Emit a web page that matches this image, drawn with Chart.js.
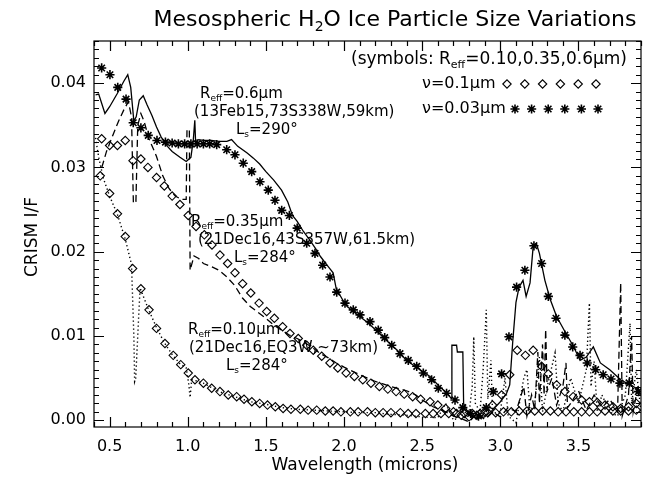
<!DOCTYPE html>
<html><head><meta charset="utf-8">
<script src="https://cdn.jsdelivr.net/npm/chart.js@4/dist/chart.umd.min.js"></script>
<style>html,body{margin:0;padding:0;background:#fff}canvas{display:block}</style>
</head><body>
<canvas id="c" width="651" height="483"></canvas>
<script>
// ---- tick labels ----
const xTickLabels = [0.5, 1.0, 1.5, 2.0, 2.5, 3.0, 3.5];
const yTickLabels = [0.00, 0.01, 0.02, 0.03, 0.04];

// ---- observed spectra (CRISM I/F) ----
// Reff = 0.6 um, 13Feb15 (solid)
const obs06X = [0.41,0.43,0.47,0.50,0.55,0.59,0.616,0.635,0.655,0.67,0.69,0.715,0.74,0.77,0.80,0.83,0.87,0.90,0.95,0.99,1.02,1.035,1.045,1.05,1.07,1.10,1.15,1.20,1.25,1.28,1.32,1.38,1.42,1.46,1.50,1.55,1.60,1.64,1.67,1.70,1.74,1.78,1.82,1.85,1.90,1.93,1.95,2.00,2.02,2.08,2.15,2.21,2.27,2.34,2.40,2.47,2.55,2.61,2.66,2.685,2.69,2.72,2.725,2.76,2.765,2.80,2.85,2.90,2.95,3.00,3.04,3.06,3.08,3.10,3.12,3.145,3.165,3.19,3.21,3.23,3.25,3.285,3.32,3.36,3.42,3.47,3.51,3.55,3.595,3.64,3.70,3.77,3.85,3.89];
const obs06Y = [0.0386,0.0387,0.0364,0.0372,0.0388,0.0402,0.0410,0.0395,0.0355,0.0360,0.0380,0.0385,0.0374,0.0362,0.0348,0.0336,0.0325,0.0319,0.0312,0.0307,0.0312,0.0332,0.0356,0.0330,0.0333,0.0332,0.0332,0.0331,0.0331,0.0333,0.0325,0.0317,0.0311,0.0304,0.0295,0.0285,0.0273,0.0259,0.0243,0.0236,0.0224,0.0214,0.0203,0.0194,0.0182,0.0175,0.0156,0.0140,0.0135,0.0126,0.0116,0.0106,0.0095,0.0083,0.0071,0.0062,0.0052,0.0040,0.0032,0.0026,0.0089,0.0089,0.0081,0.0081,0.0020,0.0006,0.0002,0.0004,0.0012,0.0022,0.0032,0.0042,0.0095,0.0140,0.0158,0.0166,0.0147,0.0163,0.0206,0.0210,0.0198,0.0166,0.0143,0.0123,0.0103,0.0087,0.0071,0.0075,0.0087,0.0068,0.0060,0.0048,0.0040,0.0036];
// Reff = 0.35 um, 21Dec16 43S (dashed)
const obs035X = [0.45,0.48,0.52,0.555,0.59,0.62,0.64,0.652,0.668,0.68,0.70,0.72,0.75,0.80,0.84,0.88,0.92,0.96,0.99,0.995,1.01,1.015,1.04,1.07,1.10,1.155,1.20,1.25,1.30,1.35,1.40,1.45,1.50,1.55,1.60,1.65,1.70,1.75,1.80,1.85,1.90,1.95,2.00,2.10,2.20,2.30,2.40,2.46,2.50,2.57,2.65,2.70,2.75,2.80,2.85,2.90,2.95,3.00,3.05,3.10,3.15,3.17,3.20,3.22,3.24,3.25,3.27,3.28,3.29,3.30,3.33,3.36,3.40,3.42,3.43,3.45,3.50,3.55,3.60,3.65,3.70,3.75,3.77,3.78,3.82,3.84,3.85,3.88];
const obs035Y = [0.0300,0.0319,0.0338,0.0354,0.0368,0.0378,0.0360,0.0258,0.0258,0.0350,0.0364,0.0355,0.0335,0.0313,0.0290,0.0275,0.0266,0.0262,0.0262,0.0345,0.0345,0.0178,0.0195,0.0192,0.0186,0.0182,0.0178,0.0170,0.0160,0.0145,0.0135,0.0128,0.0121,0.0113,0.0107,0.0101,0.0097,0.0092,0.0086,0.0079,0.0074,0.0068,0.0063,0.0054,0.0046,0.0040,0.0035,0.0030,0.0024,0.0016,0.0010,0.0005,0.0002,-0.0002,0.0008,0.0001,0.0010,0.0004,0.0015,0.0010,0.0040,0.0005,0.0030,0.0012,0.0081,0.0020,0.0090,0.0030,0.0108,0.0035,0.0050,0.0018,0.0040,0.0068,0.0015,0.0020,0.0035,0.0012,0.0030,0.0015,0.0025,0.0010,0.0163,0.0005,0.0030,0.0100,0.0010,0.0040];
// Reff = 0.10 um, 21Dec16 EQ (dotted)
const obs010X = [0.41,0.43,0.46,0.50,0.55,0.60,0.64,0.655,0.66,0.667,0.685,0.695,0.72,0.75,0.80,0.85,0.90,0.95,0.99,1.005,1.015,1.025,1.05,1.10,1.15,1.20,1.30,1.40,1.50,1.60,1.70,1.80,1.90,2.00,2.10,2.20,2.30,2.40,2.50,2.60,2.65,2.70,2.75,2.78,2.80,2.82,2.83,2.84,2.87,2.89,2.91,2.92,2.94,2.95,3.00,3.03,3.05,3.10,3.15,3.17,3.19,3.22,3.25,3.27,3.30,3.35,3.37,3.40,3.45,3.50,3.55,3.57,3.58,3.60,3.62,3.65,3.70,3.75,3.80,3.83,3.84,3.87,3.90];
const obs010Y = [0.0335,0.0312,0.0287,0.0266,0.0244,0.0215,0.0185,0.0100,0.0046,0.0050,0.0120,0.0157,0.0145,0.0131,0.0110,0.0092,0.0078,0.0067,0.0062,0.0045,0.0027,0.0048,0.0047,0.0044,0.0039,0.0034,0.0028,0.0022,0.0019,0.0015,0.0013,0.0012,0.0011,0.0010,0.0009,0.0009,0.0007,0.0006,0.0004,0.0003,0.0020,0.0000,0.0005,0.0010,0.0008,0.0040,0.0099,0.0020,0.0010,0.0060,0.0131,0.0025,0.0071,0.0008,0.0010,0.0050,0.0005,-0.0003,0.0050,0.0060,0.0010,0.0020,0.0075,0.0010,0.0040,0.0080,0.0020,0.0010,0.0050,0.0020,0.0060,0.0139,0.0040,0.0070,0.0010,0.0030,0.0010,0.0005,0.0030,0.0115,0.0020,0.0060,0.0010];

// ---- model spectra (symbols) ----
// Reff = 0.6 um, nu = 0.03 um (asterisks)
const mod06X = [0.449,0.502,0.552,0.605,0.651,0.700,0.747,0.803,0.857,0.90,0.94,0.98,1.02,1.06,1.10,1.14,1.185,1.249,1.302,1.355,1.409,1.462,1.515,1.558,1.601,1.65,1.70,1.761,1.814,1.863,1.91,1.953,2.006,2.059,2.102,2.166,2.219,2.26,2.305,2.358,2.411,2.465,2.507,2.56,2.603,2.656,2.71,2.76,2.81,2.86,2.91,2.955,3.008,3.055,3.104,3.157,3.215,3.264,3.307,3.356,3.413,3.463,3.51,3.556,3.61,3.658,3.708,3.765,3.825,3.883];
const mod06Y = [0.0418,0.0410,0.0395,0.0381,0.0353,0.0347,0.0338,0.0332,0.0330,0.0329,0.0328,0.0328,0.0328,0.0328,0.0328,0.0328,0.0327,0.0321,0.0315,0.0305,0.0295,0.0283,0.0273,0.0261,0.0249,0.0243,0.0228,0.0210,0.0198,0.0184,0.0170,0.0152,0.0139,0.0131,0.0125,0.0117,0.0107,0.0098,0.0089,0.0079,0.0071,0.0064,0.0056,0.0048,0.0038,0.0032,0.0024,0.0015,0.0008,0.0005,0.0015,0.0034,0.0055,0.0099,0.0158,0.0178,0.0207,0.0186,0.0147,0.0121,0.0101,0.0087,0.0077,0.0068,0.0060,0.0054,0.0049,0.0044,0.0044,0.0034];
// Reff = 0.35 um, nu = 0.1 um (diamonds)
const mod035X = [0.449,0.50,0.55,0.60,0.65,0.70,0.745,0.80,0.85,0.90,0.95,1.003,1.053,1.106,1.155,1.206,1.255,1.302,1.351,1.403,1.456,1.505,1.554,1.607,1.654,1.707,1.761,1.803,1.857,1.91,1.96,2.013,2.066,2.12,2.172,2.226,2.28,2.333,2.385,2.439,2.49,2.55,2.60,2.65,2.70,2.75,2.80,2.85,2.90,2.95,3.008,3.06,3.108,3.16,3.21,3.264,3.307,3.36,3.413,3.466,3.52,3.57,3.62,3.67,3.72,3.77,3.82,3.87];
const mod035Y = [0.0334,0.0326,0.0326,0.0332,0.0308,0.0310,0.0300,0.0288,0.0278,0.0266,0.0256,0.0243,0.0230,0.0220,0.0208,0.0196,0.0186,0.0175,0.0162,0.0151,0.0139,0.0129,0.0121,0.0111,0.0103,0.0097,0.0089,0.0083,0.0076,0.0068,0.0062,0.0056,0.0052,0.0048,0.0044,0.0040,0.0037,0.0034,0.0031,0.0028,0.0025,0.0022,0.0018,0.0014,0.0010,0.0006,0.0004,0.0006,0.0010,0.0018,0.0030,0.0054,0.0083,0.0077,0.0083,0.0064,0.0055,0.0042,0.0034,0.0028,0.0024,0.0022,0.0021,0.0018,0.0016,0.0014,0.0016,0.0020];
// Reff = 0.10 um, nu = 0.1 um (diamonds)
const mod010X = [0.44,0.50,0.55,0.60,0.647,0.70,0.752,0.80,0.854,0.907,0.955,1.003,1.046,1.10,1.153,1.206,1.259,1.313,1.36,1.41,1.46,1.51,1.56,1.61,1.66,1.72,1.77,1.825,1.88,1.93,1.98,2.04,2.09,2.15,2.20,2.25,2.30,2.36,2.41,2.46,2.52,2.57,2.62,2.67,2.72,2.77,2.82,2.87,2.92,2.97,3.02,3.07,3.12,3.17,3.22,3.27,3.32,3.37,3.42,3.47,3.52,3.57,3.62,3.67,3.72,3.77,3.82,3.87];
const mod010Y = [0.0290,0.0269,0.0245,0.0218,0.0180,0.0156,0.0131,0.0109,0.0091,0.0077,0.0066,0.0056,0.0048,0.0044,0.0038,0.0034,0.0030,0.0028,0.0025,0.0022,0.0020,0.0018,0.0016,0.0014,0.0013,0.0013,0.0012,0.0012,0.0011,0.0011,0.0010,0.0010,0.0010,0.0010,0.0009,0.0009,0.0009,0.0009,0.0008,0.0008,0.0008,0.0008,0.0008,0.0008,0.0008,0.0008,0.0008,0.0008,0.0009,0.0009,0.0010,0.0010,0.0011,0.0011,0.0011,0.0011,0.0011,0.0010,0.0010,0.0010,0.0010,0.0010,0.0010,0.0011,0.0011,0.0011,0.0011,0.0012];

const FAM = "'DejaVu Sans', sans-serif";
const pts = (xs, ys) => xs.map((x, i) => ({x: x, y: ys[i]}));

function drawRich(ctx, segs, x, y, size, align) {
  const mainF = size + 'px ' + FAM, subF = Math.round(size * 0.62) + 'px ' + FAM;
  let w = 0;
  segs.forEach(s => { ctx.font = s[1] ? subF : mainF; w += ctx.measureText(s[0]).width; });
  let cx = align === 'center' ? x - w / 2 : x;
  ctx.textAlign = 'left'; ctx.textBaseline = 'middle';
  segs.forEach(s => {
    ctx.font = s[1] ? subF : mainF;
    ctx.fillText(s[0], cx, s[1] ? y + size * 0.32 : y);
    cx += ctx.measureText(s[0]).width;
  });
}

function marker(ctx, style, x, y, r, bw) {
  if (Chart.helpers && Chart.helpers.drawPoint) {
    ctx.save(); ctx.strokeStyle = '#000'; ctx.fillStyle = 'rgba(0,0,0,0)'; ctx.lineWidth = bw;
    Chart.helpers.drawPoint(ctx, {pointStyle: style, radius: r, borderWidth: bw, rotation: 0}, x, y);
    ctx.restore();
  }
}

const decor = {
  id: 'decor',
  afterDraw(chart) {
    const ctx = chart.ctx, ca = chart.chartArea, xs = chart.scales.x, ys = chart.scales.y;
    ctx.save();
    ctx.strokeStyle = '#000'; ctx.fillStyle = '#000'; ctx.lineWidth = 1.2;
    ctx.strokeRect(ca.left, ca.top, ca.right - ca.left, ca.bottom - ca.top);
    ctx.beginPath();
    for (let i = 4; i <= 39; i++) {
      const px = Math.round(xs.getPixelForValue(i / 10)) + 0.5;
      const L = (i % 5 === 0) ? 10 : 5;
      ctx.moveTo(px, ca.bottom); ctx.lineTo(px, ca.bottom - L);
      ctx.moveTo(px, ca.top); ctx.lineTo(px, ca.top + L);
    }
    for (let i = 0; i <= 45; i++) {
      const py = Math.round(ys.getPixelForValue(i / 1000)) + 0.5;
      const L = (i % 10 === 0) ? 10 : 5;
      ctx.moveTo(ca.left, py); ctx.lineTo(ca.left + L, py);
      ctx.moveTo(ca.right, py); ctx.lineTo(ca.right - L, py);
    }
    ctx.stroke();

    // title
    drawRich(ctx, [['Mesospheric H', 0], ['2', 1], ['O Ice Particle Size Variations', 0]], 395, 20, 22, 'center');
    // axis titles
    ctx.font = '17px ' + FAM; ctx.textAlign = 'center'; ctx.textBaseline = 'middle';
    ctx.fillText('Wavelength (microns)', 365, 466);
    ctx.save(); ctx.translate(33, 237); ctx.rotate(-Math.PI / 2);
    ctx.fillText('CRISM I/F', 0, 0); ctx.restore();

    // annotations
    const S = 15;
    drawRich(ctx, [['R', 0], ['eff', 1], ['=0.6\u03bcm', 0]], 200, 94, S, 'left');
    drawRich(ctx, [['(13Feb15,73S338W,59km)', 0]], 194, 112, S, 'left');
    drawRich(ctx, [['L', 0], ['s', 1], ['=290\u00b0', 0]], 236, 130, S, 'left');

    drawRich(ctx, [['R', 0], ['eff', 1], ['=0.35\u03bcm', 0]], 191, 222, S, 'left');
    drawRich(ctx, [['(21Dec16,43S357W,61.5km)', 0]], 198, 240, S, 'left');
    drawRich(ctx, [['L', 0], ['s', 1], ['=284\u00b0', 0]], 234, 258, S, 'left');

    drawRich(ctx, [['R', 0], ['eff', 1], ['=0.10\u03bcm', 0]], 188, 330, S, 'left');
    drawRich(ctx, [['(21Dec16,EQ3W,~73km)', 0]], 189, 348, S, 'left');
    drawRich(ctx, [['L', 0], ['s', 1], ['=284\u00b0', 0]], 226, 366, S, 'left');

    // legend
    drawRich(ctx, [['(symbols: R', 0], ['eff', 1], ['=0.10,0.35,0.6\u03bcm)', 0]], 351, 60, 17, 'left');
    drawRich(ctx, [['\u03bd=0.1\u03bcm', 0]], 422, 84, 16, 'left');
    drawRich(ctx, [['\u03bd=0.03\u03bcm', 0]], 422, 109, 16, 'left');
    for (let k = 0; k < 6; k++) {
      marker(ctx, 'rectRot', 507 + k * 17.8, 84, 4.2, 1.1);
      marker(ctx, 'star', 515 + k * 16.6, 109, 4.6, 1.6);
    }
    ctx.restore();
  }
};

new Chart(document.getElementById('c'), {
  type: 'scatter',
  data: {
    datasets: [
      {label: 'Reff 0.6 obs', data: pts(obs06X, obs06Y), showLine: true, borderColor: '#000', borderWidth: 1.3, pointRadius: 0, tension: 0},
      {label: 'Reff 0.35 obs', data: pts(obs035X, obs035Y), showLine: true, borderColor: '#000', borderWidth: 1.3, borderDash: [7, 4], pointRadius: 0, tension: 0},
      {label: 'Reff 0.10 obs', data: pts(obs010X, obs010Y), showLine: true, borderColor: '#000', borderWidth: 1.4, borderDash: [1.3, 2.7], pointRadius: 0, tension: 0},
      {label: 'Reff 0.6 model', data: pts(mod06X, mod06Y), showLine: false, pointStyle: 'star', pointRadius: 4.6, borderColor: '#000', backgroundColor: '#000', borderWidth: 1.6},
      {label: 'Reff 0.35 model', data: pts(mod035X, mod035Y), showLine: false, pointStyle: 'rectRot', pointRadius: 4.2, borderColor: '#000', backgroundColor: 'rgba(0,0,0,0)', borderWidth: 1.1},
      {label: 'Reff 0.10 model', data: pts(mod010X, mod010Y), showLine: false, pointStyle: 'rectRot', pointRadius: 4.2, borderColor: '#000', backgroundColor: 'rgba(0,0,0,0)', borderWidth: 1.1}
    ]
  },
  options: {
    responsive: false, animation: false, devicePixelRatio: 1,
    layout: {padding: {top: 41, right: 10, left: 0, bottom: 0}},
    plugins: {legend: {display: false}, tooltip: {enabled: false}, title: {display: false}},
    scales: {
      x: {
        type: 'linear', min: 0.4, max: 3.9,
        afterBuildTicks: s => { s.ticks = xTickLabels.map(v => ({value: v})); },
        afterFit: s => { s.height = 56; },
        grid: {display: false, drawTicks: false}, border: {display: false},
        ticks: {padding: 10, color: '#000', autoSkip: false, maxRotation: 0, font: {family: FAM, size: 16}, callback: v => Number(v).toFixed(1)}
      },
      y: {
        type: 'linear', min: -0.0008, max: 0.045,
        afterBuildTicks: s => { s.ticks = yTickLabels.map(v => ({value: v})); },
        afterFit: s => { s.width = 94; },
        grid: {display: false, drawTicks: false}, border: {display: false},
        ticks: {padding: 8, color: '#000', autoSkip: false, font: {family: FAM, size: 16}, callback: v => Number(v).toFixed(2)}
      }
    }
  },
  plugins: [decor]
});
</script>
</body></html>
